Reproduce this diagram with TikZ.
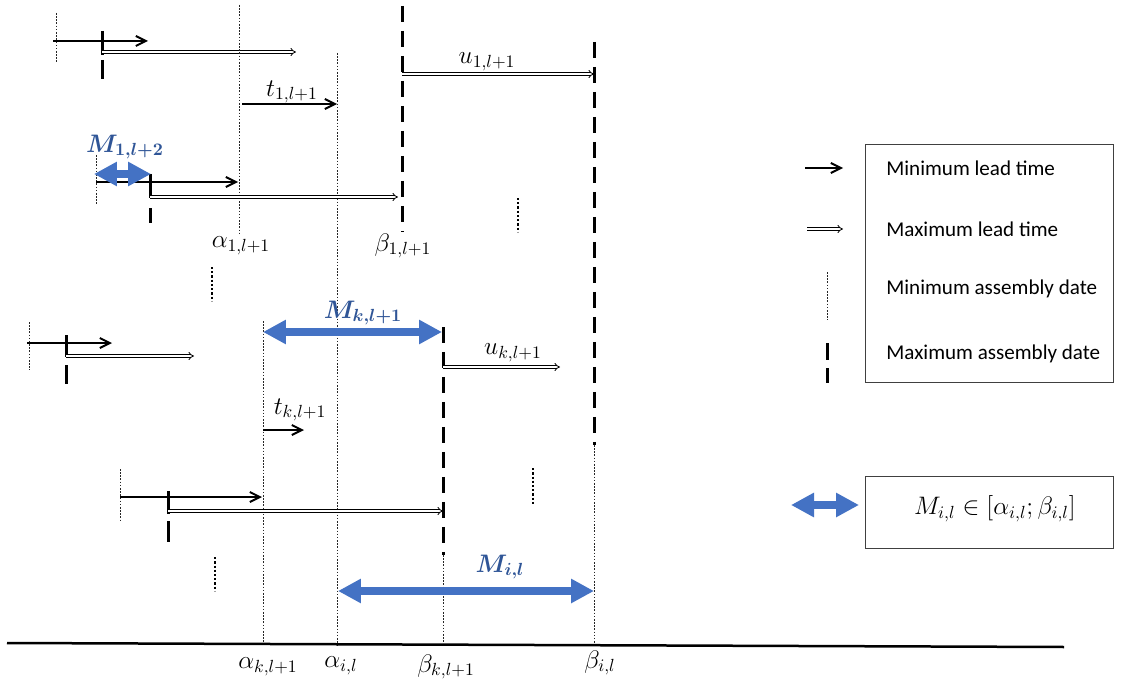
\documentclass[tikz,border=0pt]{standalone}
\usepackage{fontspec}
\setmainfont{Carlito}
\usetikzlibrary{arrows.meta}
\definecolor{arrblue}{RGB}{68,114,196}
\definecolor{lblblue}{RGB}{47,85,151}
\begin{document}
\begin{tikzpicture}[x=0.02cm,y=-0.02cm,
 minlead/.style={line width=0.04cm,-{Straight Barb[length=0.2cm,width=0.2cm]}},
 maxlead/.style={double,double distance=0.04cm,line width=0.45pt,-{Implies}},
 minass/.style={line width=0.5pt,black!85,dash pattern=on 0.9pt off 0.9pt},
 maxass/.style={line width=0.06cm,dash pattern=on 0.32cm off 0.18cm},
 maxtick/.style={line width=0.06cm},
 vdots/.style={line width=0.045cm,dash pattern=on 0.045cm off 0.04cm},
 bluearr/.style={draw=arrblue,line width=0.16cm,{Triangle[length=0.46cm,width=0.46cm]}-{Triangle[length=0.46cm,width=0.46cm]}},
 lbl/.style={font=\fontsize{14.5}{16}\selectfont, inner sep=0pt},
 mlbl/.style={font=\fontsize{14}{16}\selectfont\boldmath, text=lblblue, inner sep=0pt},
 legtxt/.style={font=\fontsize{12}{14}\selectfont, anchor=west, inner sep=0pt},
 legbox/.style={draw=black!75, line width=0.7pt}
]
\fill[white] (0,0) rectangle (1123,686);
\useasboundingbox (0,0) rectangle (1123,686);

% ---------- named coordinates ----------
% row 1
\coordinate (r1d1) at (56,13);  \coordinate (r1d2) at (56,62);
\coordinate (r1a1) at (53,41);  \coordinate (r1a2) at (148,41);
\coordinate (r1t1) at (102,31); \coordinate (r1t2) at (102,55);
\coordinate (r1t3) at (102,60); \coordinate (r1t4) at (102,79);
\coordinate (r1m1) at (102,52); \coordinate (r1m2) at (296,52);
% vertical reference lines
\coordinate (a1top) at (239,5);   \coordinate (a1bot) at (239,233);
\coordinate (aitop) at (337,53);  \coordinate (aibot) at (337,646);
\coordinate (b1top) at (402,6);   \coordinate (b1bot) at (402,232);
\coordinate (bitop) at (594,42);  \coordinate (bimid) at (594,445); \coordinate (bibot) at (594,647);
\coordinate (aktop) at (263,321); \coordinate (akbot) at (263,645);
\coordinate (bktop) at (443,327); \coordinate (bkmid) at (443,555); \coordinate (bkbot) at (443,646);
% t1, u1
\coordinate (t1a) at (242,104); \coordinate (t1b) at (337,104);
\coordinate (u1a) at (402,74);  \coordinate (u1b) at (594,74);
% row M1
\coordinate (r2d1) at (96,155);  \coordinate (r2d2) at (96,205);
\coordinate (r2a1) at (96,182);  \coordinate (r2a2) at (238,182);
\coordinate (r2t1) at (150,174); \coordinate (r2t2) at (150,198);
\coordinate (r2t3) at (150,208); \coordinate (r2t4) at (150,223);
\coordinate (r2m1) at (150,197); \coordinate (r2m2) at (398,197);
\coordinate (M1a) at (94,174);   \coordinate (M1b) at (151,174);
% row k
\coordinate (r3d1) at (29,322);  \coordinate (r3d2) at (29,370);
\coordinate (r3a1) at (27,343);  \coordinate (r3a2) at (112,343);
\coordinate (r3t1) at (66,335);  \coordinate (r3t2) at (66,357);
\coordinate (r3t3) at (66,365);  \coordinate (r3t4) at (66,384);
\coordinate (r3m1) at (66,356);  \coordinate (r3m2) at (194,356);
\coordinate (Mka) at (263,332);  \coordinate (Mkb) at (442,332);
\coordinate (uka) at (443,367);  \coordinate (ukb) at (560,367);
\coordinate (tka) at (263,430);  \coordinate (tkb) at (304,430);
% row i
\coordinate (r4d1) at (120,469); \coordinate (r4d2) at (120,520);
\coordinate (r4a1) at (120,497); \coordinate (r4a2) at (262,497);
\coordinate (r4t1) at (168,491); \coordinate (r4t2) at (168,514);
\coordinate (r4t3) at (168,521); \coordinate (r4t4) at (168,542);
\coordinate (r4m1) at (168,511); \coordinate (r4m2) at (443,511);
\coordinate (Mia) at (338,591);  \coordinate (Mib) at (594,591);
% vdots
\coordinate (v1a) at (518,198); \coordinate (v1b) at (518,232);
\coordinate (v2a) at (212,267); \coordinate (v2b) at (212,301);
\coordinate (v3a) at (533,468); \coordinate (v3b) at (533,504);
\coordinate (v4a) at (215,557); \coordinate (v4b) at (215,591);
% axis
\coordinate (ax1) at (7,643); \coordinate (ax2) at (1064,647);

% ---------- drawing ----------
% row 1
\draw[minass] (r1d1) -- (r1d2);
\draw[minlead] (r1a1) -- (r1a2);
\draw[maxtick] (r1t1) -- (r1t2);
\draw[maxtick] (r1t3) -- (r1t4);
\draw[maxlead] (r1m1) -- (r1m2);

% reference verticals
\draw[minass] (a1top) -- (a1bot);
\draw[minass] (aitop) -- (aibot);
\draw[minass] (aktop) -- (akbot);
\draw[maxass] (b1top) -- (b1bot);
\draw[maxass] (bitop) -- (bimid);
\draw[minass] (bimid) -- (bibot);
\draw[maxass] (bktop) -- (bkmid);
\draw[minass] (bkmid) -- (bkbot);

\draw[minlead] (t1a) -- (t1b);
\node[lbl] (t1lbl) at (292,92) {$t_{1,l+1}$};
\draw[maxlead] (u1a) -- (u1b);
\node[lbl] (u1lbl) at (487,62) {$u_{1,l+1}$};

% row M1
\draw[minass] (r2d1) -- (r2d2);
\draw[minlead] (r2a1) -- (r2a2);
\draw[maxtick] (r2t1) -- (r2t2);
\draw[maxtick] (r2t3) -- (r2t4);
\draw[maxlead] (r2m1) -- (r2m2);
\draw[bluearr] (M1a) -- (M1b);
\node[mlbl] (M1lbl) at (125,147) {$M_{1,l+2}$};
\node[lbl] (a1lbl) at (241,246) {$\alpha_{1,l+1}$};
\node[lbl] (b1lbl) at (403,246) {$\beta_{1,l+1}$};

% row k
\draw[minass] (r3d1) -- (r3d2);
\draw[minlead] (r3a1) -- (r3a2);
\draw[maxtick] (r3t1) -- (r3t2);
\draw[maxtick] (r3t3) -- (r3t4);
\draw[maxlead] (r3m1) -- (r3m2);
\draw[bluearr] (Mka) -- (Mkb);
\node[mlbl] (Mklbl) at (363,313) {$M_{k,l+1}$};
\draw[maxlead] (uka) -- (ukb);
\node[lbl] (uklbl) at (513,353) {$u_{k,l+1}$};
\draw[minlead] (tka) -- (tkb);
\node[lbl] (tklbl) at (300,410) {$t_{k,l+1}$};

% row i
\draw[minass] (r4d1) -- (r4d2);
\draw[minlead] (r4a1) -- (r4a2);
\draw[maxtick] (r4t1) -- (r4t2);
\draw[maxtick] (r4t3) -- (r4t4);
\draw[maxlead] (r4m1) -- (r4m2);
\draw[bluearr] (Mia) -- (Mib);
\node[mlbl] (Milbl) at (500,567) {$M_{i,l}$};

% vdots
\draw[vdots] (v1a) -- (v1b);
\draw[vdots] (v2a) -- (v2b);
\draw[vdots] (v3a) -- (v3b);
\draw[vdots] (v4a) -- (v4b);

% axis
\draw[line width=0.05cm] (ax1) -- (ax2);
\node[lbl] (aklbl) at (268,667) {$\alpha_{k,l+1}$};
\node[lbl] (ailbl) at (341,666) {$\alpha_{i,l}$};
\node[lbl] (bklbl) at (446,667) {$\beta_{k,l+1}$};
\node[lbl] (bilbl) at (600,663) {$\beta_{i,l}$};

% legend 1
\node[legbox, minimum width=248*0.02cm, minimum height=238*0.02cm, anchor=north west, inner sep=0pt] (leg1) at (865,144) {};
\coordinate (l1a) at (805,168); \coordinate (l1b) at (843,168);
\coordinate (l2a) at (807,229); \coordinate (l2b) at (843,229);
\coordinate (l3a) at (827,272); \coordinate (l3b) at (827,320);
\coordinate (l4a) at (827,343); \coordinate (l4b) at (827,360);
\coordinate (l4c) at (827,368); \coordinate (l4d) at (827,383);
\draw[minlead] (l1a) -- (l1b);
\draw[maxlead] (l2a) -- (l2b);
\draw[minass] (l3a) -- (l3b);
\draw[maxtick] (l4a) -- (l4b);
\draw[maxtick] (l4c) -- (l4d);
\node[legtxt] (lt1) at (886,168) {Minimum lead time};
\node[legtxt] (lt2) at (886,229) {Maximum lead time};
\node[legtxt] (lt3) at (886,289) {Minimum assembly date};
\node[legtxt] (lt4) at (886,354) {Maximum assembly date};

% legend 2
\node[legbox, minimum width=248*0.02cm, minimum height=72*0.02cm, anchor=north west, inner sep=0pt] (leg2) at (865,476) {};
\coordinate (lba) at (791,505); \coordinate (lbb) at (859,505);
\draw[bluearr] (lba) -- (lbb);
\node[lbl] (legf) at (995,509) {$M_{i,l}\in\bigl[\alpha_{i,l};\beta_{i,l}\bigr]$};
\end{tikzpicture}
\end{document}
